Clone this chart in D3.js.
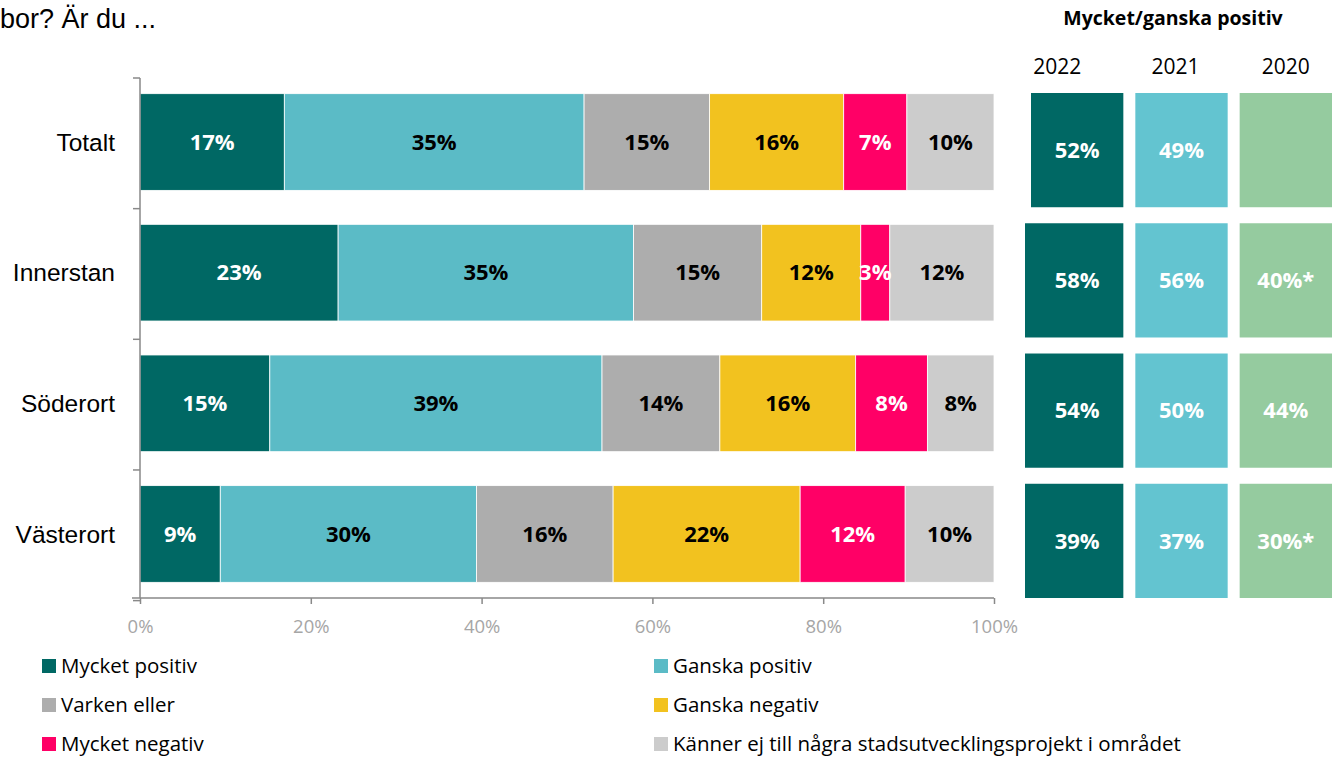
<!DOCTYPE html>
<meta charset="utf-8">
<head>
    <title>Stadsutvecklingsprojekt</title>
    <script src="https://d3js.org/d3.v7.min.js"></script>
    <style>
        body { margin: 0; background: #ffffff; }
        text { font-family: "Open Sans", "Noto Sans", sans-serif; }
    </style>
</head>
<body>
<div id="my_dataviz"></div>
<script>

// categories and series
var areas = ["Totalt", "Innerstan", "Söderort", "Västerort"];
var answers = ["Mycket positiv", "Ganska positiv", "Varken eller", "Ganska negativ",
               "Mycket negativ", "Känner ej till några stadsutvecklingsprojekt i området"];
var colors = ["#006864", "#5bbbc6", "#adadad", "#f2c21f", "#ff0066", "#cccccc"];
var labelColors = ["#ffffff", "#000000", "#000000", "#000000", "#ffffff", "#000000"];

// share per answer, one row per area (percent)
var shares = [
    [16.9, 35.1, 14.7, 15.7, 7.4, 10.2],
    [23.2, 34.6, 15.0, 11.6, 3.4, 12.2],
    [15.2, 38.9, 13.8, 15.9, 8.4, 7.8],
    [9.4, 30.0, 16.0, 21.9, 12.3, 10.4]
];

// right panel: mycket/ganska positiv per year
var years = ["2022", "2021", "2020"];
var yearColors = ["#006864", "#63c4d0", "#95cb9f"];
var pos2022 = ["52%", "58%", "54%", "39%"];
var pos2021 = ["49%", "56%", "50%", "37%"];
var pos2020 = ["", "40%*", "44%", "30%*"];
var xTicks = [0, 20, 40, 60, 80, 100];

var width = 1337, height = 757;

var svg = d3.select("#my_dataviz")
    .append("svg")
    .attr("width", width)
    .attr("height", height);

// question text (cut at left edge like the original)
svg.append("text")
    .attr("x", 0).attr("y", 28)
    .style("font-family", "Liberation Sans, Arial, sans-serif")
    .style("font-size", "27px")
    .text("bor? Är du ...");

// scales
var x = d3.scaleLinear().domain([0, 100]).range([140, 994]);
var y = d3.scaleBand().domain(areas).range([78, 598])
    .paddingInner(0.26).paddingOuter(0.12);

// stacked rows
var rows = areas.map(function(a, i) {
    var acc = 0;
    return shares[i].map(function(v, j) {
        var seg = {area: a, k: j, x0: acc, x1: acc + v, v: v};
        acc += v;
        return seg;
    });
});

var g = svg.append("g");
rows.forEach(function(row) {
    g.selectAll(null)
        .data(row)
        .enter().append("rect")
        .attr("x", function(d) { return x(d.x0); })
        .attr("y", function(d) { return y(d.area); })
        .attr("width", function(d) { return x(d.x1) - x(d.x0); })
        .attr("height", y.bandwidth())
        .attr("fill", function(d) { return colors[d.k]; })
        .attr("stroke", "#ffffff")
        .attr("stroke-width", 0.8);
    g.selectAll(null)
        .data(row)
        .enter().append("text")
        .attr("x", function(d) { return (x(d.x0) + x(d.x1)) / 2; })
        .attr("y", function(d) { return y(d.area) + y.bandwidth() / 2; })
        .attr("dy", "0.35em")
        .attr("text-anchor", "middle")
        .style("font-size", "22px")
        .style("font-weight", "bold")
        .attr("fill", function(d) { return labelColors[d.k]; })
        .text(function(d) { return Math.round(d.v) + "%"; });
});

// y axis with ticks between categories
var yLine = svg.append("g").attr("stroke", "#898989").attr("stroke-width", 1.5);
yLine.append("line").attr("x1", 140).attr("x2", 140).attr("y1", 78).attr("y2", 598);
d3.range(areas.length + 1).forEach(function(i) {
    var yy = 78 + i * y.step();
    yLine.append("line").attr("x1", 133).attr("x2", 140).attr("y1", yy).attr("y2", yy);
});

// category labels
svg.selectAll(".cat")
    .data(areas)
    .enter().append("text")
    .attr("x", 115)
    .attr("y", function(d) { return y(d) + y.bandwidth() / 2; })
    .attr("dy", "0.35em")
    .attr("text-anchor", "end")
    .style("font-family", "Liberation Sans, Arial, sans-serif")
    .style("font-size", "24.5px")
    .text(function(d) { return d; });

// x axis
var xAxis = svg.append("g")
    .attr("transform", "translate(0,598)")
    .call(d3.axisBottom(x).tickValues(xTicks).tickSize(6).tickSizeOuter(0)
        .tickFormat(function(d) { return d + "%"; }));
xAxis.select(".domain").attr("stroke", "#898989").attr("stroke-width", 1.5)
    .attr("d", "M132,0H994");
xAxis.selectAll(".tick line").attr("stroke", "#898989").attr("stroke-width", 1.5);
xAxis.selectAll(".tick text")
    .attr("fill", "#a6a6a6")
    .attr("y", 22)
    .style("font-size", "18.5px")
    .style("font-family", "Open Sans, sans-serif");

// right panel
var px = d3.scaleBand().domain(years).range([1031, 1332]).paddingInner(0.115);
var py = d3.scaleBand().domain(areas).range([93, 598]).paddingInner(0.123).paddingOuter(0);
var yearLabelShift = [-20, -6, 0];

svg.append("text")
    .attr("x", 1173).attr("y", 25)
    .attr("text-anchor", "middle")
    .style("font-size", "19.5px")
    .style("font-weight", "bold")
    .text("Mycket/ganska positiv");

svg.selectAll(".year")
    .data(years)
    .enter().append("text")
    .attr("x", function(d, i) { return px(d) + px.bandwidth() / 2 + yearLabelShift[i]; })
    .attr("y", 74)
    .attr("text-anchor", "middle")
    .style("font-size", "21px")
    .text(function(d) { return d; });

var panel = [pos2022, pos2021, pos2020];
panel.forEach(function(vals, c) {
    var yr = years[c];
    var boxes = svg.selectAll(null)
        .data(areas.map(function(a, i) { return {area: a, i: i, label: vals[i]}; }))
        .enter();
    boxes.append("rect")
        .attr("x", function(d) { return (c === 0 && d.i > 0) ? px(yr) - 6 : px(yr); })
        .attr("y", function(d) { return py(d.area); })
        .attr("width", function(d) { return (c === 0 && d.i > 0) ? px.bandwidth() + 6 : px.bandwidth(); })
        .attr("height", py.bandwidth())
        .attr("fill", yearColors[c]);
    boxes.append("text")
        .attr("x", px(yr) + px.bandwidth() / 2)
        .attr("y", function(d) { return py(d.area) + py.bandwidth() / 2; })
        .attr("dy", "0.35em")
        .attr("text-anchor", "middle")
        .attr("fill", "#ffffff")
        .style("font-size", "22px")
        .style("font-weight", "bold")
        .text(function(d) { return d.label; });
});

// legend
var legend = svg.selectAll(".legend")
    .data(answers)
    .enter().append("g")
    .attr("transform", function(d, i) {
        return "translate(" + (i % 2 === 0 ? 42 : 654) + "," + (666 + Math.floor(i / 2) * 39) + ")";
    });
legend.append("rect")
    .attr("x", 0).attr("y", -7)
    .attr("width", 14).attr("height", 14)
    .attr("fill", function(d, i) { return colors[i]; });
legend.append("text")
    .attr("x", 19).attr("y", 0)
    .attr("dy", "0.35em")
    .style("font-size", "20.5px")
    .text(function(d) { return d; });

</script>
</body>
</html>
